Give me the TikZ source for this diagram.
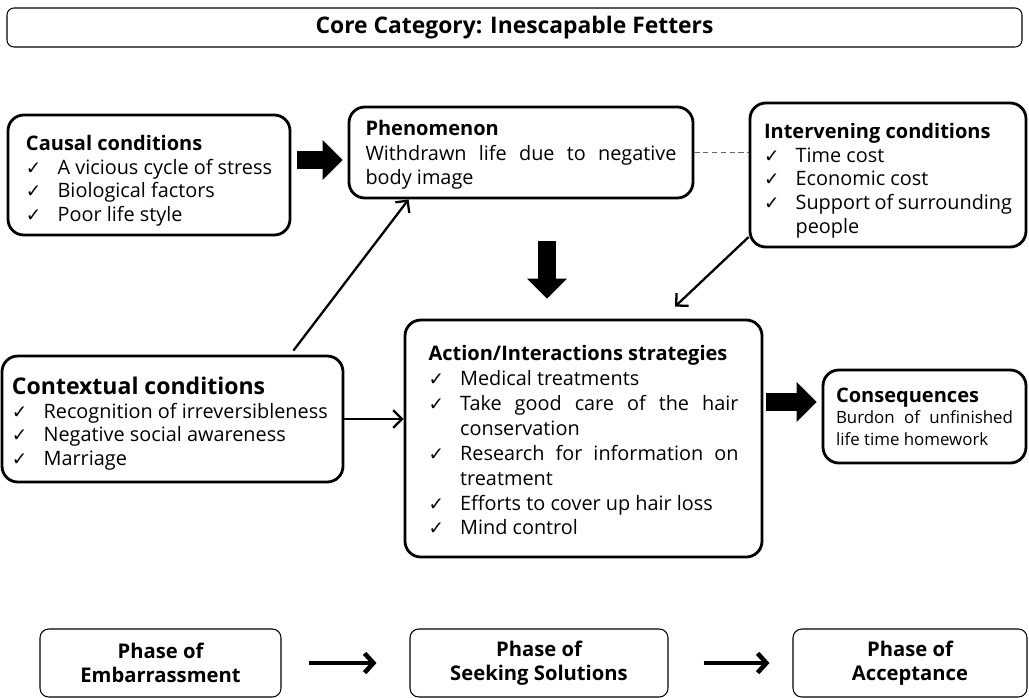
\documentclass[tikz,border=0pt]{standalone}
\usepackage{fontspec}
\setmainfont{Open Sans}
\newfontfamily\checkfont{DejaVu Sans}
\usetikzlibrary{arrows.meta,positioning}
\hyphenpenalty=10000
\exhyphenpenalty=10000

% check-mark item with hanging indent
\newcommand{\chk}{\par\hangindent=18pt\hangafter=1\noindent\makebox[18pt][l]{\checkfont\fontsize{10.5}{10}\selectfont ✓}}
\newcommand{\cattitle}[2][11.4]{{\bfseries\fontsize{#1}{14}\selectfont #2\par}}
\newcommand{\droptext}[1][0.53cm]{\rule{0pt}{#1}}

\begin{document}
\begin{tikzpicture}[
    catbox/.style={draw,line width=1.6pt,rounded corners=9pt,align=justify,
      inner ysep=0pt,font=\fontsize{11.3}{13.5}\selectfont},
    headbox/.style={draw,line width=0.6pt,rounded corners=4pt,align=center,
      font=\bfseries\fontsize{13}{15}\selectfont},
    phasebox/.style={draw,line width=0.6pt,rounded corners=5pt,align=center,
      minimum height=1.36cm,font=\bfseries\fontsize{11.5}{13.6}\selectfont},
    blockarrow/.style={line width=0.36cm,-{Triangle[length=0.4cm,width=0.78cm]}},
    linkarrow/.style={line width=1.3pt,-{Straight Barb[length=5pt,width=10pt]}},
    phasearrow/.style={line width=2.6pt,-{Straight Barb[length=5pt,width=11pt]}}
  ]
  \useasboundingbox (0,0) rectangle (20.58,-13.94);

  \node[headbox,minimum width=20.3cm,minimum height=0.78cm] (core) at (10.29,-0.55)
    {Core Category: Inescapable Fetters};

  % paradigm boxes
  \node[catbox,text width=4.92cm,inner xsep=0.36cm,minimum height=2.4cm] (causal) at (2.98,-3.5) {%
    \cattitle{\droptext Causal conditions}
    \chk A vicious cycle of stress
    \chk Biological factors
    \chk Poor life style\par};
  \node[catbox,text width=6.22cm,inner xsep=0.33cm,minimum height=1.82cm,
    font=\fontsize{11.3}{14}\selectfont] (phen) at (10.42,-3.05) {%
    \cattitle{\droptext[0.4cm]Phenomenon}
    Withdrawn life due to negative body image};
  \node[catbox,text width=4.96cm,inner xsep=0.28cm,minimum height=2.88cm] (interv) at (17.76,-3.5) {%
    \cattitle{\droptext Intervening conditions}
    \chk Time cost
    \chk Economic cost
    \chk Support of surrounding people\par};
  \node[catbox,text width=6.42cm,inner xsep=0.2cm,minimum height=2.52cm] (context) at (3.45,-8.38) {%
    \cattitle[13.1]{\droptext Contextual conditions}
    \chk Recognition of irreversibleness
    \chk Negative social awareness
    \chk Marriage\par};
  \node[catbox,text width=6.2cm,inner xsep=0.47cm,minimum height=4.74cm,
    font=\fontsize{11.3}{14.2}\selectfont] (action) at (11.67,-8.77) {%
    \cattitle{\droptext[0.37cm]Action/Interactions strategies}
    \chk Medical treatments
    \chk Take good care of the hair conservation
    \chk Research for information on treatment
    \chk Efforts to cover up hair loss
    \chk Mind control\par};
  \node[catbox,text width=3.54cm,inner xsep=0.26cm,minimum height=1.86cm,
    font=\fontsize{9.6}{12.2}\selectfont] (conseq) at (18.49,-8.33) {%
    \cattitle[11.4]{Consequences}
    Burdon of unfinished life time homework};

  % phases
  \node[phasebox,minimum width=4.82cm] (embar) at (3.21,-13.26) {Phase of\\Embarrassment};
  \node[phasebox,minimum width=5.16cm] (seek) at (10.78,-13.26) {Phase of\\Seeking Solutions};
  \node[phasebox,minimum width=4.68cm] (accept) at (18.2,-13.26) {Phase of\\Acceptance};

  \coordinate (downx) at (10.94,0);
  \coordinate (causy) at (0,-3.2);
  \coordinate (consy) at (0,-8.04);

  \draw[blockarrow,shorten <=0.12cm,shorten >=0.1cm] (causal.east |- causy) -- (phen.west |- causy);
  \draw[blockarrow,shorten <=0.84cm,shorten >=0.4cm] (phen.south -| downx) -- (action.north -| downx);
  \draw[blockarrow,shorten <=0.06cm,shorten >=0.1cm] (action.east |- consy) -- (conseq.west |- consy);

  \draw[black!60,dash pattern=on 3pt off 2pt,line width=0.6pt] (phen.east) -- (phen.east -| interv.west);
  \draw[linkarrow] ([shift={(-1.02,0.08)}]context.north east) -- ([xshift=1.22cm]phen.south west);
  \draw[linkarrow] (interv.204) -- ([shift={(1.83,0.24)}]action.north);
  \draw[linkarrow] (context.east) -- (context.east -| action.west);

  \draw[phasearrow,shorten <=0.54cm,shorten >=0.66cm] (embar.east) -- (seek.west);
  \draw[phasearrow,shorten <=0.7cm,shorten >=0.46cm] (seek.east) -- (seek.east -| accept.west);
\end{tikzpicture}
\end{document}
